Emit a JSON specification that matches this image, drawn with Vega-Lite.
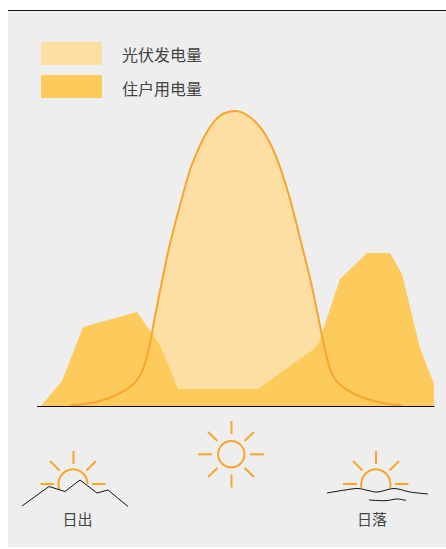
{"$schema":"https://vega.github.io/schema/vega-lite/v6.json","width":446,"height":549,"autosize":{"type":"none"},"padding":0,"background":"#ffffff","view":{"stroke":null},
"datasets":{
"pv":[{"x":70,"y":405.5,"b":406},{"x":85,"y":404,"b":406},{"x":100,"y":401,"b":406},{"x":115,"y":395.5,"b":406},{"x":130,"y":386.7,"b":406},{"x":137,"y":380,"b":406},{"x":143.3,"y":368.3,"b":406},{"x":147,"y":356.5,"b":406},{"x":150,"y":343,"b":406},{"x":155,"y":316,"b":406},{"x":162,"y":281,"b":406},{"x":169,"y":248,"b":406},{"x":181.5,"y":200,"b":406},{"x":190,"y":170,"b":406},{"x":198,"y":150,"b":406},{"x":210,"y":127,"b":406},{"x":219,"y":116.5,"b":406},{"x":228,"y":112,"b":406},{"x":236,"y":111,"b":406},{"x":246,"y":114.5,"b":406},{"x":256,"y":122.5,"b":406},{"x":265,"y":134,"b":406},{"x":273.3,"y":150,"b":406},{"x":281.7,"y":172,"b":406},{"x":290,"y":199,"b":406},{"x":297,"y":226,"b":406},{"x":303,"y":250,"b":406},{"x":312,"y":287,"b":406},{"x":320,"y":326,"b":406},{"x":325,"y":350,"b":406},{"x":330,"y":369,"b":406},{"x":335,"y":379,"b":406},{"x":340,"y":384.5,"b":406},{"x":356.7,"y":395,"b":406},{"x":373,"y":400.7,"b":406},{"x":388,"y":404,"b":406},{"x":402,"y":405.5,"b":406}],
"load":[{"x":41,"y":406,"b":406},{"x":62,"y":381,"b":406},{"x":83,"y":327,"b":406},{"x":137,"y":312,"b":406},{"x":160,"y":345,"b":406},{"x":178,"y":389,"b":406},{"x":258,"y":389,"b":406},{"x":314,"y":349,"b":406},{"x":319,"y":342,"b":406},{"x":340,"y":279,"b":406},{"x":367,"y":253,"b":406},{"x":390,"y":253,"b":406},{"x":402,"y":274,"b":406},{"x":420,"y":348,"b":406},{"x":434,"y":384,"b":406},{"x":434,"y":406,"b":406}],
"rays":[{"x":231.5,"y":421,"x2":231.5,"y2":434},{"x":231.5,"y":474.5,"x2":231.5,"y2":487.5},{"x":198,"y":454.3,"x2":212,"y2":454.3},{"x":250,"y":454.3,"x2":264,"y2":454.3},{"x":208,"y":432,"x2":217.5,"y2":441},{"x":254,"y":432,"x2":244.5,"y2":441},{"x":208,"y":477,"x2":217.5,"y2":468},{"x":254,"y":477,"x2":244.5,"y2":468},
{"x":73.5,"y":451,"x2":73.5,"y2":464},{"x":40.5,"y":484,"x2":54,"y2":484},{"x":92,"y":484,"x2":105.5,"y2":484},{"x":50,"y":461,"x2":59.5,"y2":470.5},{"x":96,"y":461,"x2":86.5,"y2":470.5},
{"x":376,"y":451,"x2":376,"y2":464},{"x":343,"y":484,"x2":357,"y2":484},{"x":395,"y":484,"x2":408.5,"y2":484},{"x":353,"y":461,"x2":362.5,"y2":470.5},{"x":399,"y":461,"x2":389.5,"y2":470.5}],
"arcs":[{"g":"a","i":0,"x":59.5,"y":489.5},{"g":"a","i":1,"x":58.3,"y":484},{"g":"a","i":2,"x":60.27,"y":476.65},{"g":"a","i":3,"x":65.65,"y":471.27},{"g":"a","i":4,"x":73,"y":469.3},{"g":"a","i":5,"x":80.35,"y":471.27},{"g":"a","i":6,"x":85.73,"y":476.65},{"g":"a","i":7,"x":87.7,"y":484},
{"g":"b","i":0,"x":361.6,"y":488},{"g":"b","i":1,"x":361.1,"y":484},{"g":"b","i":2,"x":363.07,"y":476.65},{"g":"b","i":3,"x":368.45,"y":471.27},{"g":"b","i":4,"x":375.8,"y":469.3},{"g":"b","i":5,"x":383.15,"y":471.27},{"g":"b","i":6,"x":388.53,"y":476.65},{"g":"b","i":7,"x":390.5,"y":484},{"g":"b","i":8,"x":390,"y":488}],
"mountain":[{"i":0,"x":22,"y":506},{"i":1,"x":49,"y":486.5},{"i":2,"x":65,"y":491.5},{"i":3,"x":80,"y":480},{"i":4,"x":97,"y":493},{"i":5,"x":108,"y":490},{"i":6,"x":128,"y":506.5}],
"waves":[{"g":"a","i":0,"x":327,"y":493},{"g":"a","i":1,"x":345,"y":490},{"g":"a","i":2,"x":358,"y":488.5},{"g":"a","i":3,"x":368,"y":490.5},{"g":"a","i":4,"x":378,"y":492},{"g":"a","i":5,"x":394,"y":488.5},{"g":"a","i":6,"x":410,"y":492},{"g":"a","i":7,"x":428,"y":494},
{"g":"b","i":0,"x":369,"y":500},{"g":"b","i":1,"x":385,"y":500.7},{"g":"b","i":2,"x":397,"y":499},{"g":"b","i":3,"x":406,"y":500.5}],
"legend":[{"x":41,"x2":102,"y":42,"y2":65,"c":"#fddfa3"},{"x":41,"x2":102,"y":75,"y2":98,"c":"#fdca5c"}],
"legendLabels":[{"x":122,"y":56,"t":"光伏发电量"},{"x":122,"y":89.5,"t":"住户用电量"}],
"labels":[{"x":77.5,"y":520,"t":"日出"},{"x":372,"y":520,"t":"日落"}]
},
"encoding":{"x":{"field":"x","type":"quantitative","scale":{"domain":[0,446]},"axis":null},"y":{"field":"y","type":"quantitative","scale":{"domain":[0,549],"reverse":true},"axis":null}},
"layer":[
{"data":{"values":[{"x":8,"x2":446,"y":10,"y2":547}]},"mark":{"type":"rect","color":"#eeeeee"},"encoding":{"x2":{"field":"x2"},"y2":{"field":"y2"}}},
{"data":{"values":[{"x":8,"x2":446,"y":10.5,"y2":10.5}]},"mark":{"type":"rule","color":"#111111","strokeWidth":1.2},"encoding":{"x2":{"field":"x2"},"y2":{"field":"y2"}}},
{"data":{"name":"legend"},"mark":{"type":"rect"},"encoding":{"x2":{"field":"x2"},"y2":{"field":"y2"},"color":{"field":"c","type":"nominal","scale":null}}},
{"data":{"name":"pv"},"mark":{"type":"area","color":"#fddfa3","interpolate":"monotone","opacity":1},"encoding":{"y2":{"field":"b"}}},
{"data":{"name":"load"},"mark":{"type":"area","color":"#fdca5c","opacity":1,"orient":"vertical"},"encoding":{"y2":{"field":"b"}}},
{"data":{"name":"pv"},"mark":{"type":"line","color":"#f9a52b","strokeWidth":2,"interpolate":"monotone"},"encoding":{}},
{"data":{"values":[{"x":37,"x2":434.5,"y":406.5,"y2":406.5}]},"mark":{"type":"rule","color":"#111111","strokeWidth":1.2},"encoding":{"x2":{"field":"x2"},"y2":{"field":"y2"}}},
{"data":{"name":"rays"},"mark":{"type":"rule","color":"#f9a52b","strokeWidth":2},"encoding":{"x2":{"field":"x2"},"y2":{"field":"y2"}}},
{"data":{"values":[{"x":231.3,"y":454.2}]},"mark":{"type":"point","shape":"circle","size":690,"filled":false,"stroke":"#f9a52b","strokeWidth":2,"opacity":1},"encoding":{}},
{"data":{"name":"arcs"},"mark":{"type":"line","color":"#f9a52b","strokeWidth":2,"interpolate":"cardinal"},"encoding":{"detail":{"field":"g"},"order":{"field":"i"}}},
{"data":{"name":"mountain"},"mark":{"type":"line","color":"#111111","strokeWidth":1},"encoding":{"order":{"field":"i"}}},
{"data":{"name":"waves"},"mark":{"type":"line","color":"#111111","strokeWidth":1,"interpolate":"cardinal"},"encoding":{"detail":{"field":"g"},"order":{"field":"i"}}},
{"data":{"name":"legendLabels"},"mark":{"type":"text","font":"Noto Sans CJK SC","fontSize":16,"color":"#444444","baseline":"middle","align":"left"},"encoding":{"text":{"field":"t"}}},
{"data":{"name":"labels"},"mark":{"type":"text","font":"Noto Sans CJK SC","fontSize":15,"color":"#444444","baseline":"middle","align":"center"},"encoding":{"text":{"field":"t"}}}
]}
